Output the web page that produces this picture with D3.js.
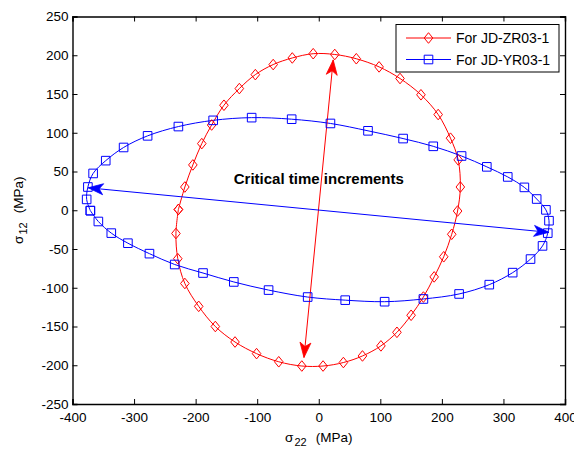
<!DOCTYPE html>
<html>
<head>
<meta charset="utf-8">
<script src="https://cdn.jsdelivr.net/npm/d3@7"></script>
<style>
  body { margin: 0; background: #fff; }
  text { font-family: "Liberation Sans", Arial, sans-serif; }
</style>
</head>
<body>
<div id="chart"></div>
<script>
// data ////////////////////////////////////////////////

const zrX = [-228, -217.5, -204.5, -190, -174, -154, -129, -103, -74, -43, -9,
  26, 61, 98, 132, 166, 194, 214, 226.5, 230, 225.5,
  216, 203, 187.5, 170, 150, 127, 101, 71, 40, 7,
  -27.5, -65, -101, -136, -168, -195, -217.5, -229, -232, -228];
const zrY = [1, 30, 58.5, 86, 110, 135.5, 157, 175, 188, 196.5, 202,
  201, 195.5, 185, 170, 149, 123.5, 93, 65, 30, -1,
  -31, -60, -86, -112, -135.5, -157.5, -175, -188, -196.5, -201,
  -201, -195.5, -185, -170, -150, -124, -94.5, -62.5, -30, 1];

const yrX = [-371, -377, -375, -366.5, -346, -317, -278, -228, -171.5, -109, -44,
  19, 80, 137, 186, 232, 273, 307, 334, 354, 369,
  374, 372, 363.5, 344, 315, 277, 228, 170, 107, 43,
  -18, -81.5, -138, -188, -234, -275, -310, -337, -358, -371];
const yrY = [-0.5, 14, 30, 47.5, 64, 81, 96, 108, 116, 119.5, 117.5,
  112, 102.5, 92.5, 82.5, 70, 56, 43, 29.5, 14.5, 0.5,
  -13.5, -29.5, -46, -63, -80.5, -96, -108, -114.5, -118, -116,
  -112, -103, -92.5, -81, -70, -56, -42.5, -29.5, -14.5, -0.5];

const seriesNames = ['For JD-ZR03-1', 'For JD-YR03-1'];
const seriesColors = ['#ff0000', '#0000ff'];

// double headed arrows
const arrows = [
  { color: '#ff0000', from: [-24, -190], to: [23.5, 194] },
  { color: '#0000ff', from: [-374.5, 29], to: [374, -28.5] }
];

const annotation = { text: 'Critical time increments', x: -138, y: 34 };

const xTicks = d3.range(-400, 401, 100);
const yTicks = d3.range(-250, 251, 50);

// layout ///////////////////////////////////////////////////////////////////

const width = 574, height = 456;
const margin = { top: 16.5, right: 9, bottom: 52, left: 72.5 };

const svg = d3.select('#chart').append('svg')
  .attr('width', width)
  .attr('height', height);

const x = d3.scaleLinear().domain([-400, 400]).range([margin.left, width - margin.right]);
const y = d3.scaleLinear().domain([-250, 250]).range([height - margin.bottom, margin.top]);

const plot = svg.append('g').attr('id', 'plot');

// axes: ticks inside on all four sides
const tickLen = 5;
const axes = svg.append('g').attr('id', 'axes');
const fmt = d => String(d);
const noLabel = () => '';

axes.append('g')
  .attr('transform', `translate(0,${y(-250)})`)
  .call(d3.axisBottom(x).tickValues(xTicks).tickSize(-tickLen).tickPadding(8).tickFormat(fmt));
axes.append('g')
  .attr('transform', `translate(0,${y(250)})`)
  .call(d3.axisTop(x).tickValues(xTicks).tickSize(-tickLen).tickFormat(noLabel));
axes.append('g')
  .attr('transform', `translate(${x(-400)},0)`)
  .call(d3.axisLeft(y).tickValues(yTicks).tickSize(-tickLen).tickPadding(4).tickFormat(fmt));
axes.append('g')
  .attr('transform', `translate(${x(400)},0)`)
  .call(d3.axisRight(y).tickValues(yTicks).tickSize(-tickLen).tickFormat(noLabel));

axes.selectAll('.domain').attr('stroke', '#000').attr('stroke-width', 1.4);
axes.selectAll('.tick line').attr('stroke', '#000').attr('stroke-width', 1);
axes.selectAll('.tick text')
  .attr('fill', '#000')
  .style('font-size', '13.5px');

// series lines and markers
const series = [
  d3.zip(zrX, zrY),
  d3.zip(yrX, yrY)
];

const line = d3.line().x(d => x(d[0])).y(d => y(d[1])).curve(d3.curveCatmullRom);

const diamond = 'M0,-5.3L4.3,0L0,5.3L-4.3,0Z';
const square = 'M-4.3,-4.3H4.3V4.3H-4.3Z';
const markers = [diamond, square];

plot.selectAll('path.series')
  .data(series)
  .join('path')
  .attr('class', 'series')
  .attr('d', line)
  .attr('fill', 'none')
  .attr('stroke', (d, i) => seriesColors[i])
  .attr('stroke-width', 1);

// arrows
function arrowHead(g, tip, tail, color) {
  const a = Math.atan2(tip[1] - tail[1], tip[0] - tail[0]);
  const L = 15, W = 5.5, N = 11;
  const pts = [
    [0, 0],
    [-L, -W],
    [-N, 0],
    [-L, W]
  ].map(([u, v]) => [
    tip[0] + u * Math.cos(a) - v * Math.sin(a),
    tip[1] + u * Math.sin(a) + v * Math.cos(a)
  ]);
  g.append('path')
    .attr('d', 'M' + pts.join('L') + 'Z')
    .attr('fill', color)
    .attr('stroke', color)
    .attr('stroke-width', 0.8);
}

const arrowG = plot.append('g').attr('id', 'arrows');
arrows.forEach(ar => {
  const p1 = [x(ar.from[0]), y(ar.from[1])];
  const p2 = [x(ar.to[0]), y(ar.to[1])];
  arrowG.append('line')
    .attr('x1', p1[0]).attr('y1', p1[1])
    .attr('x2', p2[0]).attr('y2', p2[1])
    .attr('stroke', ar.color)
    .attr('stroke-width', 1);
  arrowHead(arrowG, p1, p2, ar.color);
  arrowHead(arrowG, p2, p1, ar.color);
});

series.forEach((pts, i) => {
  plot.append('g')
    .selectAll('path')
    .data(pts)
    .join('path')
    .attr('transform', d => `translate(${x(d[0])},${y(d[1])})`)
    .attr('d', markers[i])
    .attr('fill', 'none')
    .attr('stroke', seriesColors[i])
    .attr('stroke-width', 1);
});

// annotation
plot.append('text')
  .attr('x', x(annotation.x))
  .attr('y', y(annotation.y))
  .attr('font-weight', 'bold')
  .style('font-size', '15px')
  .attr('fill', '#000')
  .text(annotation.text);

// axis labels (sigma with subscript, MATLAB leaves a wide gap before the unit)
function sigmaLabel(sel, sub) {
  sel.append('tspan').text('σ');
  sel.append('tspan').attr('dy', 3.5).attr('dx', 1).style('font-size', '11px').text(sub);
  sel.append('tspan').attr('dy', -3.5).attr('dx', 9).text('(MPa)');
}

const xLabel = svg.append('text')
  .attr('x', x(0))
  .attr('y', 442)
  .attr('text-anchor', 'middle')
  .style('font-size', '13.5px');
sigmaLabel(xLabel, '22');

const yLabel = svg.append('text')
  .attr('transform', `translate(23,${y(0)}) rotate(-90)`)
  .attr('text-anchor', 'middle')
  .style('font-size', '13.5px');
sigmaLabel(yLabel, '12');

// legend
const legend = svg.append('g').attr('id', 'legend');
legend.append('rect')
  .attr('x', 396).attr('y', 24.5)
  .attr('width', 163).attr('height', 47.5)
  .attr('fill', '#fff')
  .attr('stroke', '#000')
  .attr('stroke-width', 1);

const rows = legend.selectAll('g.row')
  .data(seriesNames)
  .join('g')
  .attr('class', 'row')
  .attr('transform', (d, i) => `translate(0,${38 + i * 21.5})`);
rows.append('line')
  .attr('x1', 406).attr('x2', 451)
  .attr('stroke', (d, i) => seriesColors[i])
  .attr('stroke-width', 1);
rows.append('path')
  .attr('transform', 'translate(428.5,0)')
  .attr('d', (d, i) => markers[i])
  .attr('fill', 'none')
  .attr('stroke', (d, i) => seriesColors[i]);
rows.append('text')
  .attr('x', 456)
  .attr('dy', '0.36em')
  .style('font-size', '14px')
  .attr('fill', '#000')
  .text(d => d);
</script>
</body>
</html>
